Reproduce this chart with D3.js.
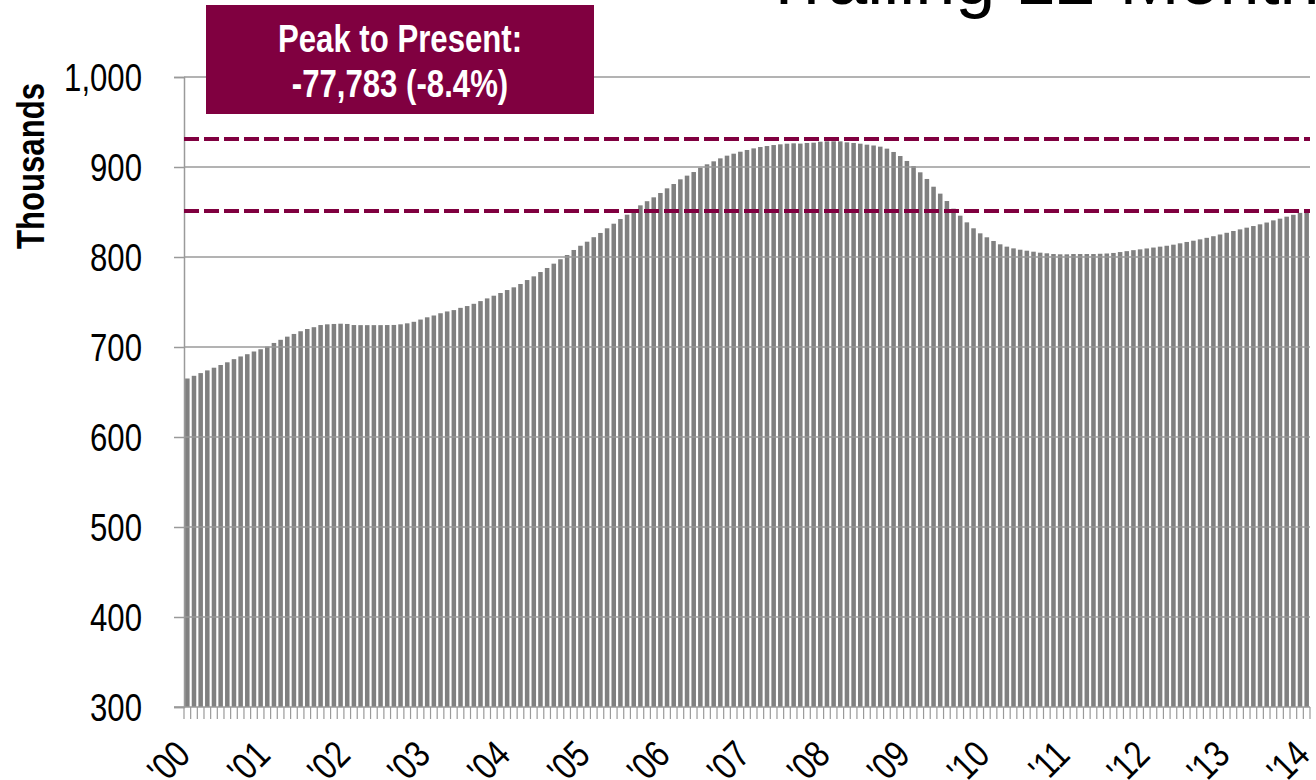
<!DOCTYPE html>
<html>
<head>
<meta charset="utf-8">
<script src="https://cdn.jsdelivr.net/npm/d3@7"></script>
<style>
  body { margin: 0; background: #fff; }
  svg { display: block; }
  text { font-family: "Liberation Sans", Arial, sans-serif; }
</style>
</head>
<body>
<svg width="1316" height="780"></svg>
<script>
// Trailing 12-month values (thousands), one per month, Jan 2000 .. Jan 2014
var values = [
  665, 668, 671, 674, 677, 680, 683, 686.5, 689.5, 692, 695, 697.5,
  700.5, 704.5, 708, 711.5, 714.5, 717.5, 720, 722, 724.4, 725.2, 725.6, 725.9,
  725.6, 724.4, 724.3, 724.3, 724.3, 724.3, 724.4, 724.5, 725.2, 726.3, 728, 730.5,
  733, 735, 737.5, 739.5, 741, 743.5, 745.5, 748, 751, 754, 757, 760,
  763.3, 766.3, 770, 774.4, 778.5, 783.3, 787.8, 792.6, 797.5, 802.2, 807.8, 812.5,
  817, 822, 826.7, 831.9, 837, 842.2, 847, 852.2, 857.4, 862, 866.3, 871.1,
  876.3, 881.1, 886.3, 890.4, 894.4, 899.2, 903, 906.3, 909.6, 912.6, 914.8, 917,
  918.9, 920.7, 922.2, 923.3, 924.4, 925.2, 925.9, 926.3, 926, 926.7, 927, 928.1,
  928.5, 928.6, 928.5, 927.4, 926.7, 925.9, 924.8, 923.9, 922.6, 920.4, 916.7, 912.2,
  906.7, 901.1, 894.1, 886.7, 878.1, 870.4, 862.2, 853.7, 845.9, 838.5, 831.9, 826.3,
  821.9, 817.8, 814.1, 811.5, 809.6, 808.1, 807, 805.9, 804.8, 804.1, 803.3, 803,
  803, 803.3, 803.3, 803.3, 803.3, 803.6, 803.9, 804.5, 805.5, 806.5, 807.6, 808.5,
  809.5, 810.5, 811.5, 812.5, 813.7, 815.2, 816.7, 818.1, 819.6, 821.3, 823.1, 825,
  826.9, 828.9, 830.7, 832.6, 834.4, 836.3, 838.3, 840.7, 842.6, 844.8, 846.9, 849,
  850.5
];

// one label every 12 months
var yearLabels = ["'00", "'01", "'02", "'03", "'04", "'05", "'06", "'07",
                  "'08", "'09", "'10", "'11", "'12", "'13", "'14"];

var yTicks = [300, 400, 500, 600, 700, 800, 900, 1000];

// peak and present reference levels
var refLevels = [931, 851];

var boxLines = ["Peak to Present:", "-77,783 (-8.4%)"];
var titleText = "Trailing 12-Month Total";

var svg = d3.select("svg"),
    width = +svg.attr("width"),
    height = +svg.attr("height");

var plotLeft = 184, plotRight = 1310, plotTop = 77, plotBottom = 707;
var maroon = "#800040";
var squeeze = " scale(0.82,1)";   // stands in for Arial Narrow

var x = d3.scaleBand()
    .domain(d3.range(values.length))
    .range([plotLeft, plotRight])
    .paddingInner(0.32)
    .paddingOuter(0.16);

var y = d3.scaleLinear()
    .domain([300, 1000])
    .range([plotBottom, plotTop]);

// title, cut off by the top edge
svg.append("text")
    .attr("x", 762)
    .attr("y", 4)
    .text(titleText)
    .style("font-size", "72px")
    .attr("fill", "#000");

// bars
svg.append("g")
    .selectAll("rect")
    .data(values)
    .enter()
    .append("rect")
    .attr("x", function(d, i) { return x(i) })
    .attr("width", x.bandwidth())
    .attr("y", function(d) { return y(d) })
    .attr("height", function(d) { return y(300) - y(d) })
    .attr("fill", "#808080")

// gridlines (sit over the bars in the original)
svg.append("g")
    .selectAll("line")
    .data(yTicks.filter(function(d) { return d > 300 }))
    .enter()
    .append("line")
    .attr("x1", plotLeft)
    .attr("x2", plotRight)
    .attr("y1", function(d) { return y(d) })
    .attr("y2", function(d) { return y(d) })
    .attr("stroke", "#9a9a9a")
    .attr("stroke-width", 1.5)

// y axis
var yAxis = svg.append("g")
    .attr("transform", "translate(" + plotLeft + ",0)")
    .call(d3.axisLeft(y).tickValues(yTicks).tickSize(10).tickPadding(32).tickFormat(d3.format(",")));
yAxis.select(".domain").attr("stroke", "#9a9a9a").attr("stroke-width", 1.5);
yAxis.selectAll(".tick line").attr("stroke", "#9a9a9a").attr("stroke-width", 1.5);
yAxis.selectAll(".tick text")
    .style("font-size", "38px")
    .attr("fill", "#000")
    .attr("dy", "0.36em")
    .attr("transform", function() { return "translate(" + d3.select(this).attr("x") + ",0)" + squeeze })
    .attr("x", 0);

// x axis: baseline plus a tick at every month boundary
var step = x.step();
svg.append("line")
    .attr("x1", plotLeft - 10)
    .attr("x2", plotRight)
    .attr("y1", y(300))
    .attr("y2", y(300))
    .attr("stroke", "#9a9a9a")
    .attr("stroke-width", 1.5)

svg.append("g")
    .selectAll("line")
    .data(d3.range(values.length + 1))
    .enter()
    .append("line")
    .attr("x1", function(d) { return plotLeft + d * step })
    .attr("x2", function(d) { return plotLeft + d * step })
    .attr("y1", y(300))
    .attr("y2", y(300) + 12)
    .attr("stroke", "#9a9a9a")
    .attr("stroke-width", 1.2)

svg.append("g")
    .selectAll("text")
    .data(yearLabels)
    .enter()
    .append("text")
    .attr("transform", function(d, i) {
        var cx = x(i * 12) + x.bandwidth() / 2 + 5;
        return "translate(" + cx + ",757) rotate(-45)" + squeeze;
    })
    .attr("text-anchor", "end")
    .style("font-size", "38px")
    .text(function(d) { return d })

// axis title
svg.append("text")
    .attr("transform", "translate(44,166) rotate(-90)" + squeeze)
    .attr("text-anchor", "middle")
    .style("font-size", "38px")
    .style("font-weight", "bold")
    .text("Thousands")

// dashed peak / present lines
svg.append("g")
    .selectAll("line")
    .data(refLevels)
    .enter()
    .append("line")
    .attr("x1", plotLeft)
    .attr("x2", plotRight)
    .attr("y1", function(d) { return y(d) })
    .attr("y2", function(d) { return y(d) })
    .attr("stroke", maroon)
    .attr("stroke-width", 4)
    .style("stroke-dasharray", "15,5")

// annotation box
svg.append("rect")
    .attr("x", 206)
    .attr("y", 5)
    .attr("width", 388)
    .attr("height", 109)
    .attr("fill", maroon)

svg.append("g")
    .selectAll("text")
    .data(boxLines)
    .enter()
    .append("text")
    .attr("transform", function(d, i) { return "translate(400," + (52 + i * 45) + ")" + squeeze })
    .attr("text-anchor", "middle")
    .attr("fill", "#fff")
    .style("font-size", "38px")
    .style("font-weight", "bold")
    .text(function(d) { return d })
</script>
</body>
</html>
